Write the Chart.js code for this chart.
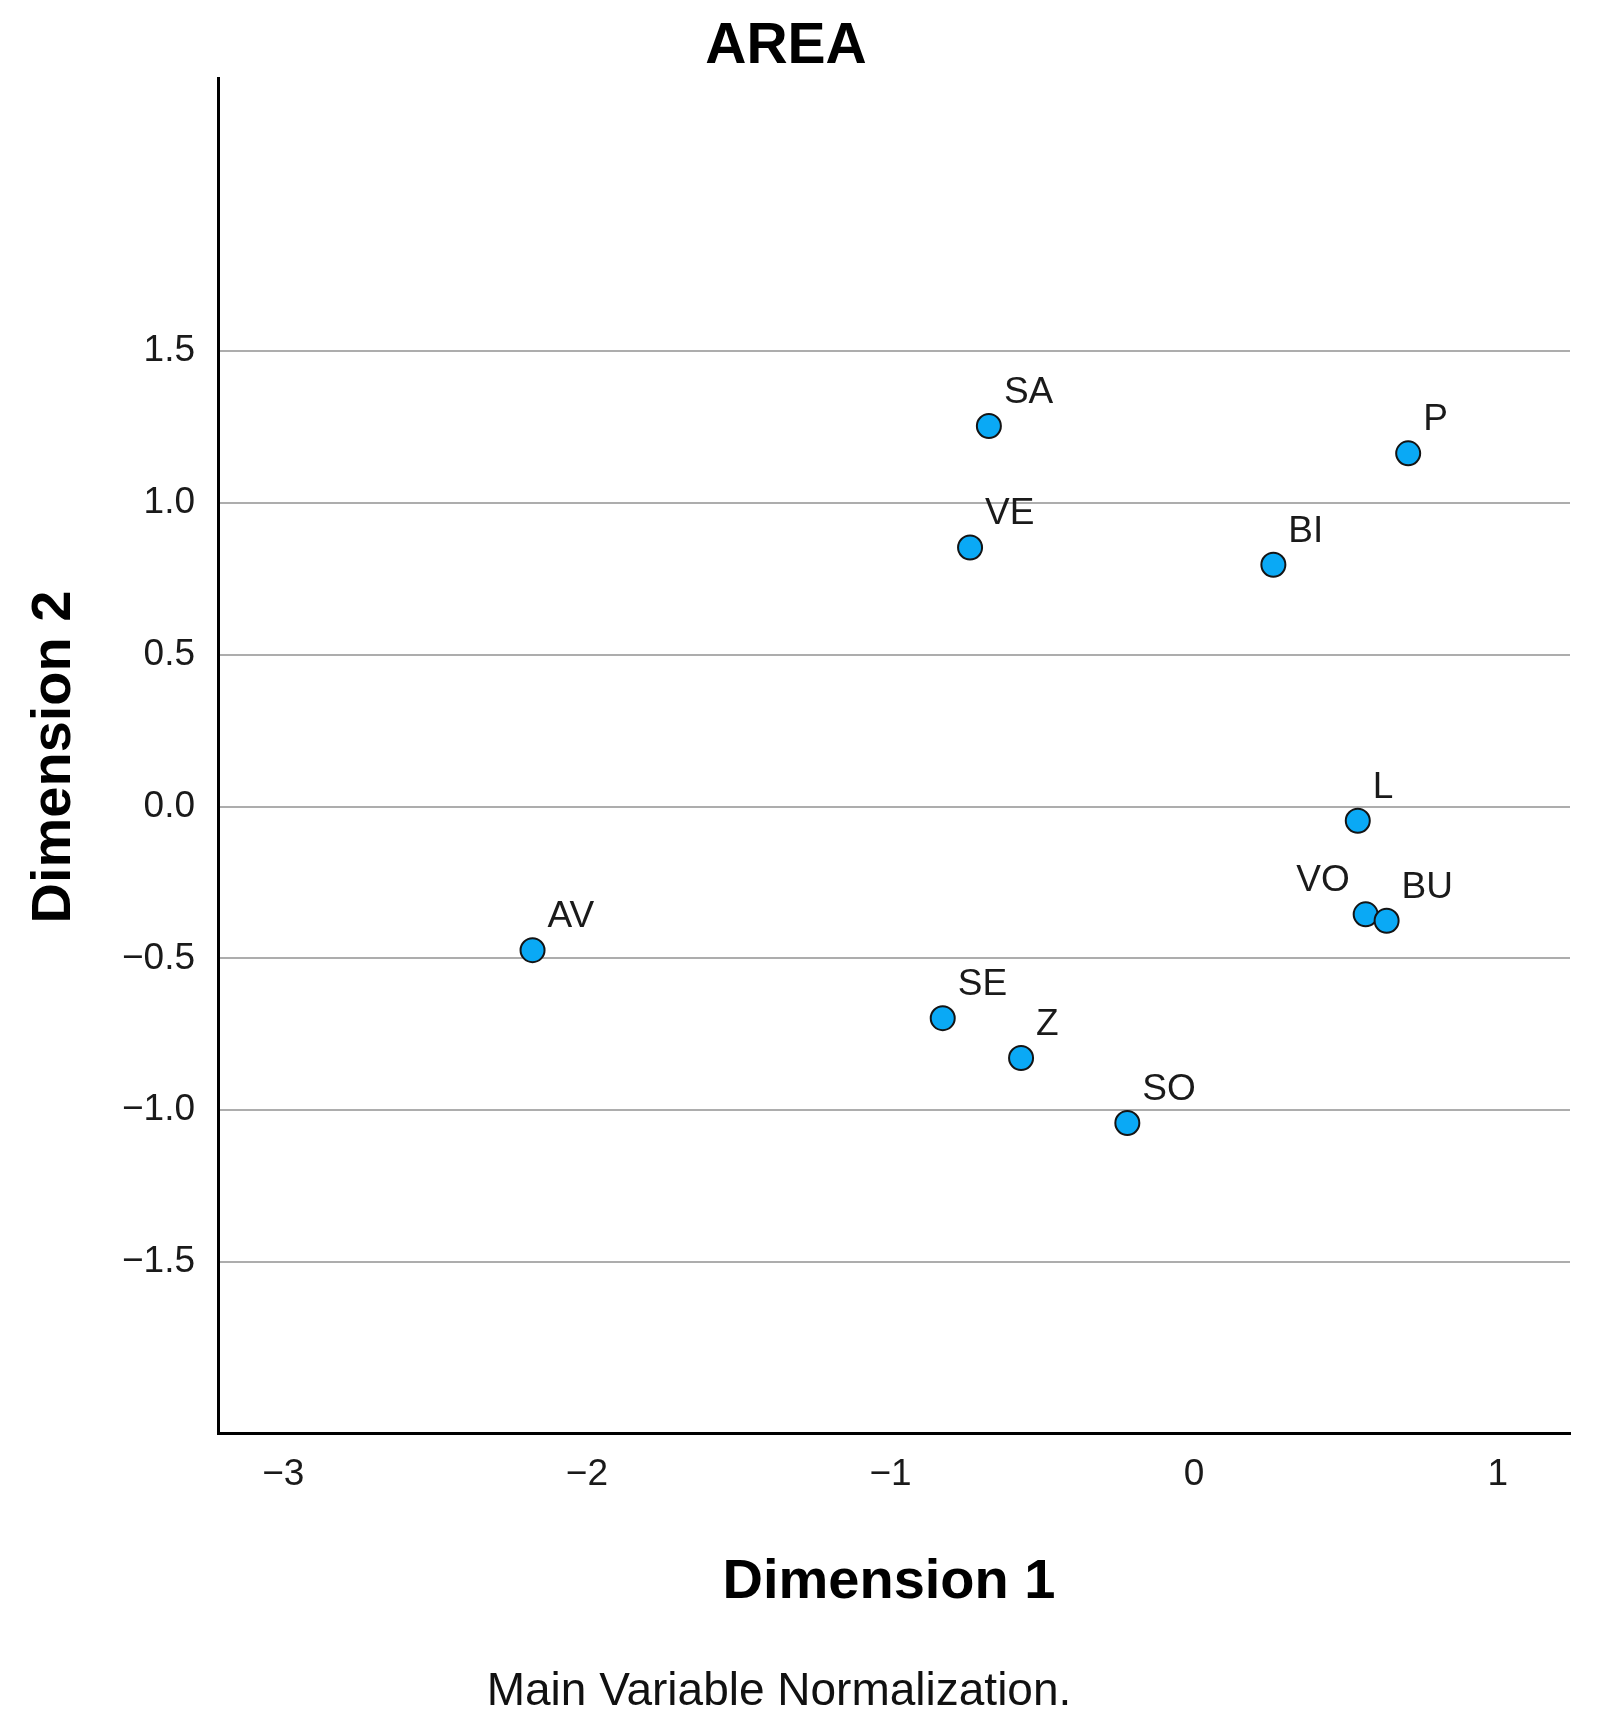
<!DOCTYPE html>
<html>
<head>
<meta charset="utf-8">
<script src="https://cdn.jsdelivr.net/npm/chart.js@4.4.1/dist/chart.umd.min.js"></script>
<style>
  html, body { margin: 0; padding: 0; background: #fff; }
  #wrap { width: 1602px; height: 1731px; position: relative; }
</style>
</head>
<body>
<div id="wrap"><canvas id="chart"></canvas></div>
<script>
// category points (dimension 1 / dimension 2)
const pointNames = ["SA", "P", "VE", "BI", "L", "VO", "BU", "AV", "SE", "Z", "SO"];
const dim1 = [-0.676, 0.705, -0.738, 0.261, 0.539, 0.565, 0.634, -2.179, -0.828, -0.570, -0.220];
const dim2 = [1.253, 1.163, 0.853, 0.796, -0.047, -0.355, -0.376, -0.473, -0.697, -0.828, -1.042];

const xTicks = [-3, -2, -1, 0, 1];
const yTicks = [-1.5, -1.0, -0.5, 0.0, 0.5, 1.0, 1.5];

const chartTitle = "AREA";
const xTitle = "Dimension 1";
const yTitle = "Dimension 2";
const footnote = "Main Variable Normalization.";
const labelsOnLeft = ["VO"];

const FONT = '"Liberation Sans", Arial, sans-serif';
const minus = (s) => String(s).replace("-", "\u2212");

// point labels next to each marker
const pointLabels = {
  id: "pointLabels",
  afterDatasetsDraw(chart) {
    const ctx = chart.ctx;
    const meta = chart.getDatasetMeta(0);
    ctx.save();
    ctx.font = `37px ${FONT}`;
    ctx.fillStyle = "#1a1a1a";
    ctx.textBaseline = "alphabetic";
    meta.data.forEach((el, i) => {
      const name = pointNames[i];
      if (labelsOnLeft.includes(name)) {
        ctx.textAlign = "right";
        ctx.fillText(name, el.x - 16, el.y - 23);
      } else {
        ctx.textAlign = "left";
        ctx.fillText(name, el.x + 15, el.y - 23);
      }
    });
    ctx.restore();
  },
};

// titles and footnote
const texts = {
  id: "texts",
  afterDraw(chart) {
    const ctx = chart.ctx;
    ctx.save();
    ctx.fillStyle = "#000";
    ctx.textAlign = "center";
    ctx.textBaseline = "alphabetic";

    ctx.font = `bold 57px ${FONT}`;
    ctx.fillText(chartTitle, 786, 63);

    ctx.font = `bold 56px ${FONT}`;
    ctx.fillText(xTitle, 889, 1598);

    ctx.save();
    ctx.translate(70, 757);
    ctx.rotate(-Math.PI / 2);
    ctx.fillText(yTitle, 0, 0);
    ctx.restore();

    ctx.font = `46px ${FONT}`;
    ctx.fillStyle = "#111";
    ctx.fillText(footnote, 779, 1705);
    ctx.restore();
  },
};

new Chart(document.getElementById("chart"), {
  type: "scatter",
  data: {
    datasets: [{
      data: dim1.map((x, i) => ({ x, y: dim2[i] })),
      backgroundColor: "#0aa9f5",
      borderColor: "#141414",
      borderWidth: 2,
      pointRadius: 12,
      pointHoverRadius: 12,
    }],
  },
  options: {
    responsive: true,
    maintainAspectRatio: false,
    animation: false,
    layout: { padding: { top: 78, right: 32, left: 0, bottom: 0 } },
    plugins: {
      legend: { display: false },
      tooltip: { enabled: false },
    },
    scales: {
      x: {
        type: "linear",
        min: -3.215,
        max: 1.238,
        afterBuildTicks: (s) => { s.ticks = xTicks.map((v) => ({ value: v })); },
        afterFit: (s) => { s.height = 298; },
        grid: { display: false, drawTicks: false },
        border: { display: true, color: "#000", width: 3 },
        ticks: {
          autoSkip: false,
          maxRotation: 0,
          padding: 20,
          color: "#1a1a1a",
          font: { family: FONT, size: 37 },
          callback: (v) => minus(v),
        },
      },
      y: {
        type: "linear",
        min: -2.063,
        max: 2.399,
        afterBuildTicks: (s) => { s.ticks = yTicks.map((v) => ({ value: v })); },
        afterFit: (s) => { s.width = 218; },
        grid: { color: "#adadad", lineWidth: 2, drawTicks: false },
        border: { display: true, color: "#000", width: 3 },
        ticks: {
          padding: 23,
          color: "#1a1a1a",
          font: { family: FONT, size: 37 },
          callback: (v) => minus(Number(v).toFixed(1)),
        },
      },
    },
  },
  plugins: [pointLabels, texts],
});
</script>
</body>
</html>
